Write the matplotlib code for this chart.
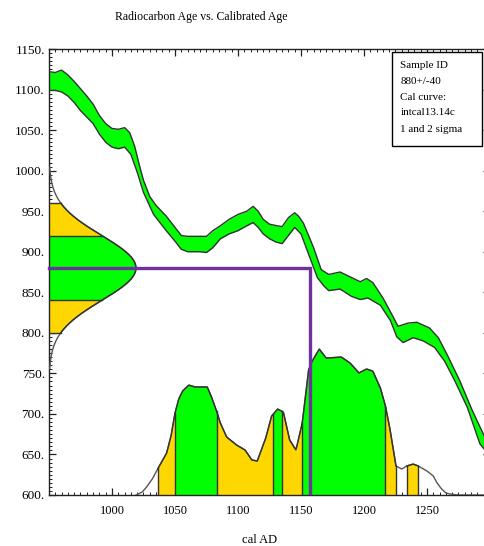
import numpy as np
import matplotlib
matplotlib.use("Agg")
import matplotlib.pyplot as plt
from matplotlib.ticker import MultipleLocator, FuncFormatter
from matplotlib.patches import Rectangle

plt.rcParams['font.family'] = ['Liberation Serif', 'DejaVu Serif']

# ---- text ----
title = "Radiocarbon Age vs. Calibrated Age"
x_label = "cal AD"
info_lines = ["Sample ID", "880+/-40", "Cal curve:", "intcal13.14c", "1 and 2 sigma"]

# ---- radiocarbon measurement ----
c14_age = 880
c14_err = 40

# ---- calibration curve envelope (cal AD -> 14C age BP) ----
upper_years = [950, 955, 960, 965, 970, 975, 980, 985, 990, 995, 1000, 1005, 1010,
               1014, 1018, 1022, 1025, 1030, 1035, 1043, 1050, 1055, 1060, 1070,
               1075, 1080, 1086, 1093, 1100, 1107, 1112, 1116, 1120, 1125, 1131,
               1135, 1140, 1145, 1148, 1152, 1160, 1166, 1172, 1181, 1189, 1197,
               1202, 1207, 1215, 1222, 1227, 1235, 1242, 1252, 1259, 1266, 1276,
               1286, 1296, 1300]
upper_age = [1122, 1121, 1124, 1118, 1110, 1101, 1092, 1082, 1068, 1058, 1052, 1051,
             1053, 1047, 1030, 1005, 988, 968, 957, 944, 930, 920, 919, 919, 919,
             926, 932, 940, 946, 950, 956, 950, 940, 934, 932, 931, 942, 948, 944,
             935, 905, 878, 872, 875, 869, 863, 867, 862, 843, 823, 808, 812, 813,
             806, 794, 773, 741, 704, 671, 660]
lower_years = [950, 955, 960, 965, 970, 975, 980, 985, 990, 995, 1000, 1005, 1010,
               1015, 1020, 1025, 1033, 1043, 1050, 1055, 1060, 1070, 1075, 1080,
               1086, 1093, 1100, 1107, 1112, 1116, 1120, 1125, 1130, 1135, 1140,
               1145, 1150, 1157, 1163, 1168, 1172, 1181, 1190, 1197, 1203, 1213,
               1221, 1226, 1231, 1239, 1247, 1256, 1264, 1272, 1282, 1292, 1300]
lower_age = [1099, 1099, 1097, 1092, 1084, 1074, 1066, 1058, 1045, 1035, 1029, 1027,
             1029, 1020, 998, 973, 946, 926, 913, 903, 900, 900, 899, 905, 916, 922,
             926, 932, 936, 930, 922, 916, 912, 910, 920, 930, 922, 893, 868, 858,
             852, 854, 845, 841, 843, 834, 815, 795, 788, 794, 790, 782, 765, 741,
             708, 663, 648]

# ---- calibrated probability (relative to peak) ----
prob_years = [1019, 1021, 1024, 1027.5, 1032, 1036.7, 1043.4, 1047, 1050, 1053, 1056,
              1061, 1066, 1075.6, 1079, 1083, 1086, 1091, 1099, 1105.6, 1111, 1115.3,
              1122, 1126.7, 1131.5, 1136, 1141, 1146, 1151, 1156, 1158.5, 1164.5,
              1170, 1182, 1189, 1196, 1202, 1207, 1213, 1217, 1220.6, 1225.4, 1230,
              1234, 1239, 1243, 1250, 1255, 1258, 1261.6, 1265, 1268, 1275, 1300]
prob_rel = [0.0, 0.007, 0.021, 0.055, 0.11, 0.185, 0.288, 0.411, 0.562, 0.658, 0.712,
            0.753, 0.74, 0.74, 0.671, 0.575, 0.493, 0.397, 0.342, 0.308, 0.24, 0.233,
            0.39, 0.541, 0.589, 0.568, 0.377, 0.308, 0.493, 0.856, 0.911, 1.0,
            0.938, 0.945, 0.904, 0.836, 0.863, 0.849, 0.733, 0.61, 0.452, 0.199, 0.178,
            0.199, 0.212, 0.199, 0.164, 0.13, 0.082, 0.041, 0.014, 0.007, 0.0, 0.0]

one_sigma_ranges = [(1050, 1083), (1128, 1135), (1151, 1217)]
two_sigma_ranges = [(1036.5, 1225.4), (1234, 1243)]
cal_point = 1157

# ---- styling ----
GREEN = "#00FF00"
GOLD = "#FFD700"
EDGE = "#333333"
TAIL = "#555555"
PURPLE = "#7030A0"

x_min, x_max = 950, 1300
y_min, y_max = 600, 1150
prob_height = 180      # vertical extent (in 14C years) of the calibrated density peak
gauss_width = 69       # horizontal extent (in cal years) of the measurement density peak

W, H = 485, 546
fig = plt.figure(figsize=(W / 100, H / 100), dpi=100)
ax = fig.add_axes([49 / W, (H - 495) / H, 441 / W, 446 / H])
ax.set_xlim(x_min, x_max)
ax.set_ylim(y_min, y_max)

# calibration curve band
grid = np.linspace(x_min, x_max, 701)
up = np.interp(grid, upper_years, upper_age)
lo = np.interp(grid, lower_years, lower_age)
ax.fill_between(grid, lo, up, color=GREEN, lw=0, zorder=2)
ax.plot(upper_years, upper_age, color=EDGE, lw=1.0, zorder=3)
ax.plot(lower_years, lower_age, color=EDGE, lw=1.0, zorder=3)

# measurement density on the age axis
ages = np.linspace(c14_age - 3.1 * c14_err, c14_age + 3.1 * c14_err, 400)
dens = x_min + gauss_width * np.exp(-0.5 * ((ages - c14_age) / c14_err) ** 2)


def fill_age_band(a0, a1, color):
    a = np.linspace(a0, a1, 120)
    d = x_min + gauss_width * np.exp(-0.5 * ((a - c14_age) / c14_err) ** 2)
    ax.fill_betweenx(a, x_min, d, color=color, lw=0, zorder=2)


fill_age_band(c14_age - 2 * c14_err, c14_age - c14_err, GOLD)
fill_age_band(c14_age + c14_err, c14_age + 2 * c14_err, GOLD)
fill_age_band(c14_age - c14_err, c14_age + c14_err, GREEN)
ax.plot(dens, ages, color=TAIL, lw=1.0, zorder=3)
for k in (-2, -1, 1, 2):
    a = c14_age + k * c14_err
    d = x_min + gauss_width * np.exp(-0.5 * k ** 2)
    ax.plot([x_min, d], [a, a], color=EDGE, lw=1.0, zorder=3)
inside = (ages >= c14_age - 2 * c14_err) & (ages <= c14_age + 2 * c14_err)
ax.plot(dens[inside], ages[inside], color=EDGE, lw=1.0, zorder=3)

# calibrated density on the year axis
p_age = y_min + prob_height * np.array(prob_rel)


def year_band(y0, y1):
    g = np.linspace(y0, y1, 200)
    h = y_min + prob_height * np.interp(g, prob_years, prob_rel)
    return g, h


for y0, y1 in two_sigma_ranges:
    g, h = year_band(y0, y1)
    ax.fill_between(g, y_min, h, color=GOLD, lw=0, zorder=2)
for y0, y1 in one_sigma_ranges:
    g, h = year_band(y0, y1)
    ax.fill_between(g, y_min, h, color=GREEN, lw=0, zorder=2)

ax.plot(prob_years, p_age, color=TAIL, lw=1.0, zorder=3)
for y0, y1 in two_sigma_ranges:
    g, h = year_band(y0, y1)
    ax.plot(g, h, color=EDGE, lw=1.0, zorder=3)
for rng in one_sigma_ranges + two_sigma_ranges:
    for b in rng:
        hb = y_min + prob_height * np.interp(b, prob_years, prob_rel)
        ax.plot([b, b], [y_min, hb], color=EDGE, lw=1.0, zorder=3)

# measured age projected onto the calibration
ax.plot([x_min, cal_point, cal_point], [c14_age, c14_age, 603],
        color=PURPLE, lw=2.4, solid_joinstyle="miter", zorder=5, clip_on=False)

# axes styling
ax.xaxis.set_minor_locator(MultipleLocator(5))
ax.yaxis.set_minor_locator(MultipleLocator(5))
ax.set_xticks([1000, 1050, 1100, 1150, 1200, 1250])
ax.set_yticks(np.arange(600, 1151, 50))
ax.xaxis.set_major_formatter(FuncFormatter(lambda v, p: f"{v:.0f}"))
ax.yaxis.set_major_formatter(FuncFormatter(lambda v, p: f"{v:.0f}."))
ax.tick_params(which="both", direction="in", top=True, right=True,
               colors="#222222", labelcolor="black")
ax.tick_params(which="major", length=5, width=0.9)
ax.tick_params(which="minor", length=2.2, width=0.7)
ax.tick_params(axis="x", pad=7, labelsize=9)
ax.tick_params(axis="y", pad=3, labelsize=9.5)
for s in ax.spines.values():
    s.set_linewidth(1.0)
    s.set_color("#222222")

# info box
ax.add_patch(Rectangle((0.778, 0.7825), 0.204, 0.2105, transform=ax.transAxes,
                       facecolor="white", edgecolor="black", lw=1.0, zorder=6))
for i, line in enumerate(info_lines):
    fig.text(400.5 / W, 1 - (65 + i * 16) / H, line, fontsize=8, va="center",
             ha="left", zorder=7)

fig.text(201 / W, 1 - 17 / H, title, fontsize=8.5, ha="center", va="center")
fig.text(260 / W, 1 - 540 / H, x_label, fontsize=9, ha="center", va="center")

fig.savefig("out.png", dpi=100)
